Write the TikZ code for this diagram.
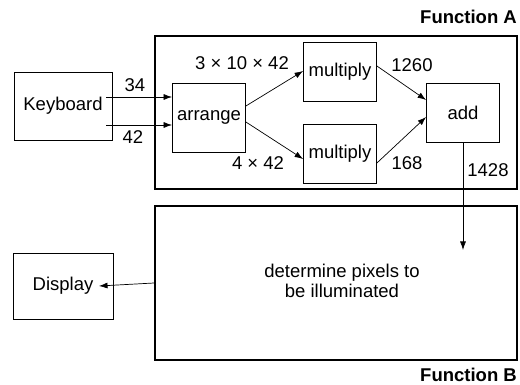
\documentclass[tikz,border=0pt]{standalone}
\usepackage{fontspec}
\setmainfont{Liberation Sans}
\usetikzlibrary{arrows.meta}
\begin{document}
\begin{tikzpicture}[x=1pt,y=-1pt,font=\fontsize{18.5}{20}\selectfont,
    box/.style={draw,line width=0.8pt,inner sep=0pt,minimum width=73pt,minimum height=59pt},
    func/.style={draw,line width=2pt,minimum width=362pt},
    lbl/.style={inner sep=0pt},
    flow/.style={-{Latex[length=8.5pt,width=6pt]},line width=0.7pt}]
  \useasboundingbox (0,0) rectangle (520,385);
  % the two functions
  \node[func,minimum height=153pt] (funcA) at (336,112.5) {};
  \node[func,minimum height=154pt] (funcB) at (336,283) {};
  \node[lbl,anchor=east,font=\fontsize{18.5}{20}\selectfont\bfseries] (nameA) at (517,17) {Function A};
  \node[lbl,anchor=east,font=\fontsize{18.5}{20}\selectfont\bfseries] (nameB) at (517,375) {Function B};
  % boxes
  \node[box,minimum width=98pt,minimum height=68pt] (keyboard) at (63,106) {Keyboard};
  \node[box,minimum height=69pt] (arrange) at (209,117.5) {arrange};
  \node[box] (mulA) at (340,71.5) {multiply};
  \node[box] (mulB) at (340,153.5) {multiply};
  \node[box] (add) at (463,112.5) {add};
  \node[box,minimum width=100pt,minimum height=66pt] (display) at (63,286) {Display};
  \node[lbl,align=center] (pixels) at (342,281) {determine pixels to\\be illuminated};

  % keyboard into arrange
  \coordinate (kbA) at (106,97);
  \coordinate (kbB) at (106,125);
  \draw[flow] (kbA) -- (arrange.west |- kbA);
  \draw[flow] (kbB) -- (arrange.west |- kbB);
  \node[lbl] (n34) at (135,85) {34};
  \node[lbl] (n42) at (133,137) {42};

  % arrange to the multipliers
  \draw[flow] (arrange.east |- 0,106) -- (mulA.west |- 0,71);
  \draw[flow] (arrange.east |- 0,122) -- (mulB.west |- 0,159);
  \node[lbl] (termA) at (242,63) {3 × 10 × 42};
  \node[lbl] (termB) at (258,163) {4 × 42};

  % multipliers to add
  \draw[flow] (mulA.east |- 0,66) -- (add.west |- 0,100);
  \draw[flow] (mulB.east |- 0,163) -- (add.west |- 0,117);
  \node[lbl] (n1260) at (412,65) {1260};
  \node[lbl] (n168) at (407,163) {168};

  % sum goes down to function B
  \coordinate (sumIn) at (add.south |- 0,250);
  \draw[flow] (add.south) -- (sumIn);
  \node[lbl] (n1428) at (488,170) {1428};

  % out to the display
  \coordinate (dispIn) at (99,286);
  \draw[flow] (funcB.west) -- (dispIn);
\end{tikzpicture}
\end{document}
